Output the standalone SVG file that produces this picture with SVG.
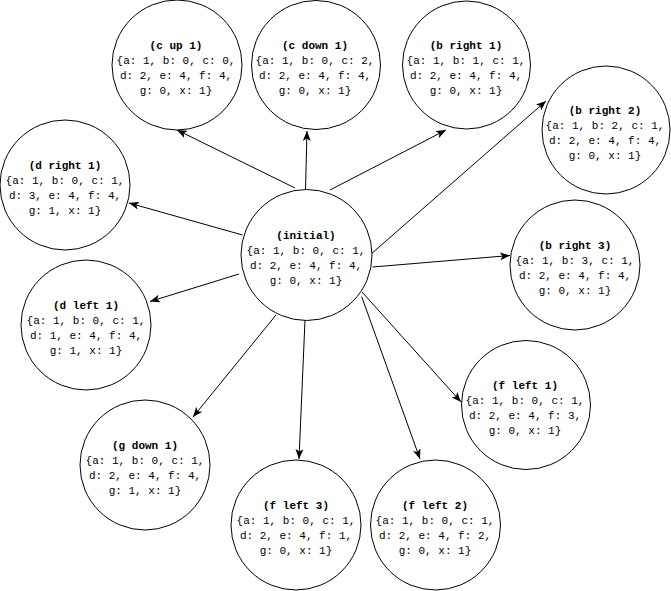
<svg xmlns="http://www.w3.org/2000/svg" width="671" height="591" viewBox="0 0 671 591">
<style>
.n{fill:#fff;stroke:#000;stroke-width:1}
.t{font-family:"Liberation Mono","DejaVu Sans Mono",monospace;font-size:11px;fill:#000;text-anchor:middle}
.h{font-weight:bold}
.e{stroke:#000;stroke-width:1;fill:none;marker-end:url(#arr)}
</style>
<defs>
<marker id="arr" markerUnits="userSpaceOnUse" markerWidth="10" markerHeight="8" refX="10" refY="4" orient="auto">
<path d="M0,0 L10,4 L0,8 L2.5,4 Z" fill="#000"/>
</marker>
</defs>
<g id="connectors">
<line class="e" x1="295" y1="188" x2="177" y2="130"/>
<line class="e" x1="305.5" y1="190" x2="307" y2="131"/>
<line class="e" x1="330" y1="190" x2="446" y2="130"/>
<line class="e" x1="370" y1="255" x2="546" y2="101"/>
<line class="e" x1="372.5" y1="267" x2="510" y2="255.5"/>
<line class="e" x1="362" y1="292" x2="461" y2="402"/>
<line class="e" x1="361.7" y1="296.7" x2="420" y2="459"/>
<line class="e" x1="305" y1="320" x2="299" y2="459"/>
<line class="e" x1="276" y1="315" x2="193" y2="417"/>
<line class="e" x1="239" y1="274" x2="150" y2="301.5"/>
<line class="e" x1="242.5" y1="235" x2="129" y2="203"/>
</g>
<g id="initial">
<circle class="n" cx="306.5" cy="255" r="65.5"/>
<text class="t" x="306" y="239"><tspan class="h">(initial)</tspan><tspan x="306" dy="15">{a: 1, b: 0, c: 1,</tspan><tspan x="306" dy="15">d: 2, e: 4, f: 4,</tspan><tspan x="306" dy="15">g: 0, x: 1}</tspan></text>
</g>
<g id="c_up_1">
<circle class="n" cx="177" cy="65" r="65"/>
<text class="t" x="176" y="49"><tspan class="h">(c up 1)</tspan><tspan x="176" dy="15">{a: 1, b: 0, c: 0,</tspan><tspan x="176" dy="15">d: 2, e: 4, f: 4,</tspan><tspan x="176" dy="15">g: 0, x: 1}</tspan></text>
</g>
<g id="c_down_1">
<circle class="n" cx="316" cy="65" r="64.5"/>
<text class="t" x="315" y="49"><tspan class="h">(c down 1)</tspan><tspan x="315" dy="15">{a: 1, b: 0, c: 2,</tspan><tspan x="315" dy="15">d: 2, e: 4, f: 4,</tspan><tspan x="315" dy="15">g: 0, x: 1}</tspan></text>
</g>
<g id="b_right_1">
<circle class="n" cx="466.5" cy="65" r="64"/>
<text class="t" x="466" y="49"><tspan class="h">(b right 1)</tspan><tspan x="466" dy="15">{a: 1, b: 1, c: 1,</tspan><tspan x="466" dy="15">d: 2, e: 4, f: 4,</tspan><tspan x="466" dy="15">g: 0, x: 1}</tspan></text>
</g>
<g id="b_right_2">
<circle class="n" cx="606" cy="130" r="64"/>
<text class="t" x="605" y="114"><tspan class="h">(b right 2)</tspan><tspan x="605" dy="15">{a: 1, b: 2, c: 1,</tspan><tspan x="605" dy="15">d: 2, e: 4, f: 4,</tspan><tspan x="605" dy="15">g: 0, x: 1}</tspan></text>
</g>
<g id="d_right_1">
<circle class="n" cx="65" cy="185" r="65"/>
<text class="t" x="65" y="169"><tspan class="h">(d right 1)</tspan><tspan x="65" dy="15">{a: 1, b: 0, c: 1,</tspan><tspan x="65" dy="15">d: 3, e: 4, f: 4,</tspan><tspan x="65" dy="15">g: 1, x: 1}</tspan></text>
</g>
<g id="b_right_3">
<circle class="n" cx="575" cy="265" r="65"/>
<text class="t" x="575" y="249"><tspan class="h">(b right 3)</tspan><tspan x="575" dy="15">{a: 1, b: 3, c: 1,</tspan><tspan x="575" dy="15">d: 2, e: 4, f: 4,</tspan><tspan x="575" dy="15">g: 0, x: 1}</tspan></text>
</g>
<g id="d_left_1">
<circle class="n" cx="86" cy="325" r="65"/>
<text class="t" x="86" y="309"><tspan class="h">(d left 1)</tspan><tspan x="86" dy="15">{a: 1, b: 0, c: 1,</tspan><tspan x="86" dy="15">d: 1, e: 4, f: 4,</tspan><tspan x="86" dy="15">g: 1, x: 1}</tspan></text>
</g>
<g id="f_left_1">
<circle class="n" cx="526" cy="405" r="64.5"/>
<text class="t" x="525" y="389"><tspan class="h">(f left 1)</tspan><tspan x="525" dy="15">{a: 1, b: 0, c: 1,</tspan><tspan x="525" dy="15">d: 2, e: 4, f: 3,</tspan><tspan x="525" dy="15">g: 0, x: 1}</tspan></text>
</g>
<g id="g_down_1">
<circle class="n" cx="145" cy="465" r="65"/>
<text class="t" x="145" y="449"><tspan class="h">(g down 1)</tspan><tspan x="145" dy="15">{a: 1, b: 0, c: 1,</tspan><tspan x="145" dy="15">d: 2, e: 4, f: 4,</tspan><tspan x="145" dy="15">g: 1, x: 1}</tspan></text>
</g>
<g id="f_left_3">
<circle class="n" cx="296" cy="525" r="65"/>
<text class="t" x="296" y="509"><tspan class="h">(f left 3)</tspan><tspan x="296" dy="15">{a: 1, b: 0, c: 1,</tspan><tspan x="296" dy="15">d: 2, e: 4, f: 1,</tspan><tspan x="296" dy="15">g: 0, x: 1}</tspan></text>
</g>
<g id="f_left_2">
<circle class="n" cx="435.5" cy="525" r="65"/>
<text class="t" x="435" y="509"><tspan class="h">(f left 2)</tspan><tspan x="435" dy="15">{a: 1, b: 0, c: 1,</tspan><tspan x="435" dy="15">d: 2, e: 4, f: 2,</tspan><tspan x="435" dy="15">g: 0, x: 1}</tspan></text>
</g>
</svg>
